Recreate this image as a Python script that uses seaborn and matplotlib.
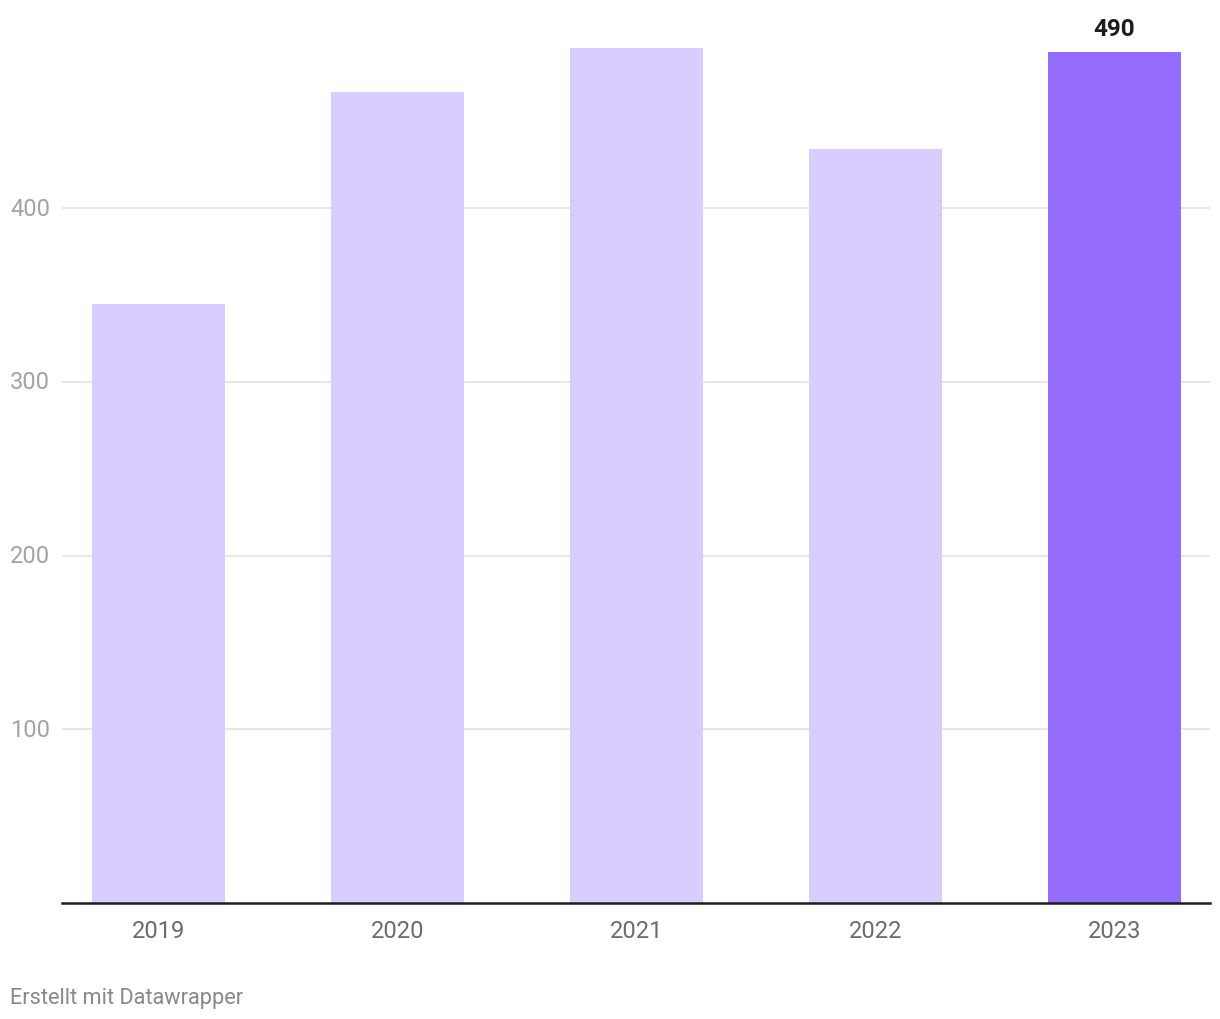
import matplotlib
matplotlib.use("Agg")
import matplotlib.pyplot as plt
import matplotlib.transforms as mtransforms
import seaborn as sns
import pandas as pd

years = ["2019", "2020", "2021", "2022", "2023"]
values = [345, 467, 492, 434, 490]
highlight_year = "2023"
y_ticks = [100, 200, 300, 400]

sns.set_theme(style="white")
plt.rcParams['font.family'] = ['Roboto', 'DejaVu Sans']

df = pd.DataFrame({"year": years, "value": values})
light = "#d8cdfe"
dark = "#946dfe"
palette = {y: (dark if y == highlight_year else light) for y in years}

fig = plt.figure(figsize=(12.2, 10.2), dpi=100)
ax = fig.add_axes([62/1220, 116/1020, (1210-62)/1220, (904-41)/1020])

sns.barplot(data=df, x="year", y="value", hue="year", palette=palette,
            width=0.557, legend=False, ax=ax, saturation=1, linewidth=0,
            edgecolor="none")

ax.set_xlim(-0.404, 4.40)
ax.set_ylim(0, 496.7)
ax.set_yticks(y_ticks)
ax.yaxis.grid(True, color="#e3e3e3", linewidth=1.2)
ax.set_axisbelow(True)
for s in ["top", "right", "left"]:
    ax.spines[s].set_visible(False)
ax.spines["bottom"].set_color("#1d1d1d")
ax.spines["bottom"].set_linewidth(1.8)
ax.set_xlabel("")
ax.set_ylabel("")
ax.tick_params(axis="x", length=0, pad=11.5, labelsize=17, labelcolor="#6b6b6b")
ax.tick_params(axis="y", length=0, labelsize=17, labelcolor="#a3a3a3")
ax.set_yticklabels([])
blend = mtransforms.blended_transform_factory(fig.transFigure, ax.transData)
for t in y_ticks:
    ax.text(10/1220, t, str(t), transform=blend,
            ha="left", va="center", fontsize=17, color="#a3a3a3")

idx = years.index(highlight_year)
ax.annotate(str(values[idx]), xy=(idx, values[idx]), xytext=(0, 17),
            textcoords="offset points", ha="center", va="center",
            fontsize=17.5, fontweight="bold", color="#1d1d1d")

fig.text(10/1220, 1 - 999/1020, "Erstellt mit Datawrapper", ha="left", va="center",
         fontsize=15.7, color="#888888")

fig.savefig("out.png", dpi=100, facecolor="white")
